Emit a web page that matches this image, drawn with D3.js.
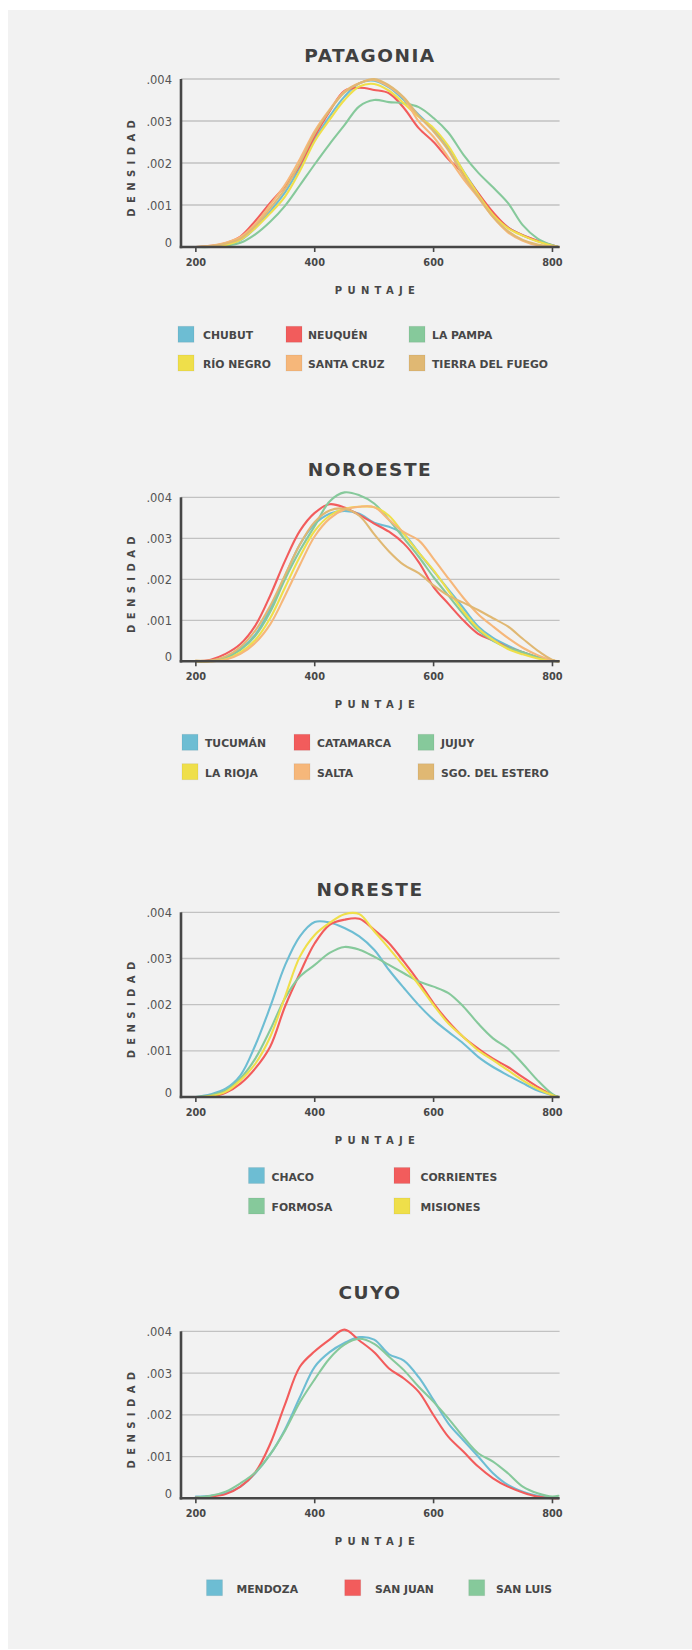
<!DOCTYPE html>
<html><head><meta charset="utf-8">
<script src="https://cdn.jsdelivr.net/npm/d3@7"></script>
<style>
html,body{margin:0;padding:0;background:#fff;}
svg{display:block;}
text{font-family:"DejaVu Sans",sans-serif;}
</style></head>
<body>
<script>
// ---------- DATA ----------
const scores = [200,225,250,275,300,325,350,375,400,425,450,475,500,525,550,575,600,625,650,675,700,725,750,775,800,810];
const xTickValues = [200,400,600,800];
const yTickValues = [0,1,2,3,4];            // density in thousandths
const yTickLabels = ["0",".001",".002",".003",".004"];

const regionTitles = ["PATAGONIA","NOROESTE","NORESTE","CUYO"];

// Patagonia
const patagoniaNames = ["CHUBUT","NEUQUÉN","LA PAMPA","RÍO NEGRO","SANTA CRUZ","TIERRA DEL FUEGO"];
const chubut    = [0,0.02,0.06,0.16,0.45,0.85,1.3,1.89,2.56,3.11,3.58,3.9,3.96,3.8,3.5,3.15,2.8,2.36,1.81,1.28,0.79,0.47,0.28,0.14,0.03,0];
const neuquen   = [0,0.03,0.09,0.25,0.62,1.05,1.45,1.95,2.64,3.23,3.72,3.79,3.74,3.66,3.31,2.83,2.5,2.09,1.75,1.28,0.83,0.47,0.28,0.15,0.04,0];
const laPampa   = [0,0,0.03,0.1,0.3,0.6,0.98,1.47,1.97,2.45,2.9,3.35,3.5,3.45,3.42,3.33,3.07,2.72,2.2,1.77,1.42,1.05,0.52,0.2,0.04,0];
const rioNegro  = [0,0.01,0.05,0.17,0.45,0.8,1.2,1.81,2.52,3.03,3.5,3.82,3.88,3.72,3.42,3.1,2.83,2.4,1.8,1.25,0.77,0.45,0.27,0.13,0.03,0];
const santaCruz = [0,0.03,0.1,0.24,0.55,1.0,1.48,2.09,2.76,3.27,3.7,3.9,3.98,3.82,3.54,2.99,2.62,2.13,1.62,1.18,0.71,0.35,0.15,0.04,0.01,0];
const tierraDelFuego = [0,0.02,0.08,0.2,0.5,0.92,1.38,2.0,2.7,3.25,3.68,3.9,4.0,3.85,3.56,3.12,2.75,2.3,1.7,1.2,0.72,0.38,0.17,0.06,0.01,0];

// Noroeste
const noroesteNames = ["TUCUMÁN","CATAMARCA","JUJUY","LA RIOJA","SALTA","SGO. DEL ESTERO"];
const tucuman   = [0,0.01,0.1,0.3,0.65,1.28,2.08,2.85,3.35,3.6,3.67,3.6,3.38,3.28,3.1,2.65,2.2,1.75,1.3,0.85,0.57,0.38,0.22,0.1,0.02,0];
const catamarca = [0,0.04,0.18,0.42,0.87,1.6,2.45,3.18,3.62,3.83,3.75,3.57,3.36,3.16,2.87,2.42,1.81,1.4,1.0,0.67,0.51,0.34,0.22,0.1,0.02,0];
const jujuy     = [0,0.01,0.08,0.28,0.62,1.2,2.0,2.7,3.3,3.9,4.12,4.05,3.85,3.45,3.0,2.55,2.05,1.6,1.15,0.75,0.5,0.33,0.22,0.1,0.02,0];
const laRioja   = [0,0,0.05,0.22,0.52,1.05,1.8,2.55,3.18,3.55,3.72,3.77,3.76,3.55,3.1,2.65,2.22,1.72,1.22,0.8,0.52,0.3,0.17,0.07,0.01,0];
const salta     = [0,0,0.04,0.18,0.45,0.9,1.6,2.35,3.05,3.48,3.7,3.77,3.76,3.45,3.15,2.95,2.5,2.02,1.55,1.15,0.85,0.57,0.33,0.15,0.02,0];
const sgoDelEstero = [0.02,0.02,0.12,0.35,0.75,1.35,2.1,2.85,3.4,3.68,3.72,3.55,3.1,2.68,2.35,2.15,1.85,1.6,1.43,1.25,1.05,0.85,0.55,0.26,0.03,0];

// Noreste
const noresteNames = ["CHACO","CORRIENTES","FORMOSA","MISIONES"];
const chaco      = [0,0.06,0.18,0.47,1.12,1.95,2.85,3.48,3.79,3.78,3.66,3.48,3.19,2.75,2.36,1.99,1.67,1.41,1.16,0.87,0.65,0.47,0.3,0.14,0.04,0];
const corrientes = [0,0.01,0.09,0.29,0.62,1.09,1.96,2.68,3.33,3.73,3.84,3.86,3.62,3.33,2.93,2.5,2.03,1.63,1.3,1.05,0.83,0.65,0.43,0.22,0.04,0];
const formosa    = [0,0.04,0.14,0.4,0.83,1.45,2.14,2.61,2.86,3.12,3.25,3.19,3.04,2.86,2.68,2.5,2.39,2.25,1.96,1.59,1.27,1.05,0.72,0.36,0.06,0];
const misiones   = [0,0.02,0.11,0.36,0.72,1.3,2.17,3.04,3.51,3.77,3.96,3.96,3.59,3.22,2.83,2.43,1.99,1.59,1.3,1.01,0.8,0.58,0.36,0.18,0.04,0];

// Cuyo
const cuyoNames = ["MENDOZA","SAN JUAN","SAN LUIS"];
const mendoza = [0.04,0.06,0.12,0.28,0.6,1.05,1.65,2.42,3.15,3.5,3.72,3.86,3.8,3.45,3.3,2.9,2.35,1.79,1.39,1.0,0.6,0.32,0.16,0.06,0.02,0];
const sanJuan = [0.02,0.04,0.1,0.28,0.62,1.3,2.25,3.15,3.52,3.8,4.04,3.78,3.5,3.11,2.87,2.55,1.99,1.47,1.12,0.76,0.48,0.28,0.14,0.04,0,0];
const sanLuis = [0.02,0.06,0.16,0.36,0.62,1.05,1.62,2.3,2.85,3.35,3.68,3.82,3.7,3.39,3.07,2.67,2.31,1.91,1.47,1.08,0.88,0.6,0.28,0.12,0.04,0.06];

// colours
const cBlue="#6dbdd3", cRed="#f25c5c", cGreen="#86c99b", cYellow="#efdf4a", cOrange="#f6b77a", cTan="#e0b873";

// ---------- LAYOUT ----------
const regions = [
  {title:regionTitles[0], names:patagoniaNames, series:[chubut,neuquen,laPampa,rioNegro,santaCruz,tierraDelFuego],
   colors:[cBlue,cRed,cGreen,cYellow,cOrange,cTan],
   y0:247, y4:79, titleY:61.7,
   swX:[178,286,409], txX:[203,308,432], rows:[339.3,368]},
  {title:regionTitles[1], names:noroesteNames, series:[tucuman,catamarca,jujuy,laRioja,salta,sgoDelEstero],
   colors:[cBlue,cRed,cGreen,cYellow,cOrange,cTan],
   y0:661.3, y4:497.3, titleY:476,
   swX:[182,294,418], txX:[205,317,441], rows:[747.3,776.7]},
  {title:regionTitles[2], names:noresteNames, series:[chaco,corrientes,formosa,misiones],
   colors:[cBlue,cRed,cGreen,cYellow],
   y0:1097, y4:912.3, titleY:896,
   swX:[248.5,394], txX:[271.5,420.5], rows:[1180.5,1211]},
  {title:regionTitles[3], names:cuyoNames, series:[mendoza,sanJuan,sanLuis],
   colors:[cBlue,cRed,cGreen],
   y0:1498.3, y4:1331.3, titleY:1299,
   swX:[206.5,344.7,468.7], txX:[236.5,375,496], rows:[1592.7]}
];

const W=692, H=1650;
const svg = d3.select("body").append("svg").attr("width",W).attr("height",H);
svg.append("rect").attr("width",W).attr("height",H).attr("fill","#fff");
svg.append("rect").attr("x",8).attr("y",10).attr("width",W-8).attr("height",1639).attr("fill","#f2f2f2");

const x = d3.scaleLinear().domain([175,812]).range([181,559.6]);
const axisColor="#464646", textColor="#474747";

regions.forEach(r=>{
  const y = d3.scaleLinear().domain([0,4]).range([r.y0,r.y4]);
  const g = svg.append("g");
  const xl = x.range()[0], xr = x.range()[1];

  // title
  g.append("text").attr("x",370).attr("y",r.titleY).attr("text-anchor","middle")
    .attr("font-size",18.5).attr("font-weight","bold").attr("letter-spacing",1.5)
    .attr("fill","#404040").text(r.title);

  // grid lines
  g.selectAll("line.grid").data(yTickValues.filter(d=>d>0)).enter().append("line")
    .attr("x1",xl).attr("x2",xr).attr("y1",d=>y(d)).attr("y2",d=>y(d))
    .attr("stroke","#c2c2c2").attr("stroke-width",1.3);

  // y tick labels
  g.selectAll("text.yt").data(yTickValues).enter().append("text")
    .attr("x",172).attr("y",d=>y(d)+(d===0?-0.5:4.5)).attr("text-anchor","end")
    .attr("font-size",11.5).attr("fill","#555").text((d,i)=>yTickLabels[i]);

  // lines
  const line = d3.line().x((d,i)=>x(scores[i])).y(d=>y(Math.max(0,d))).curve(d3.curveCatmullRom.alpha(0.5));
  r.series.forEach((s,i)=>{
    g.append("path").attr("d",line(s)).attr("fill","none")
      .attr("stroke",r.colors[i]).attr("stroke-width",2.1).attr("stroke-linejoin","round").attr("stroke-linecap","round");
  });

  // axes
  g.append("line").attr("x1",xl).attr("x2",xl).attr("y1",r.y4).attr("y2",r.y0+1.2)
    .attr("stroke",axisColor).attr("stroke-width",2.6);
  g.append("line").attr("x1",xl-1.3).attr("x2",xr).attr("y1",r.y0).attr("y2",r.y0)
    .attr("stroke",axisColor).attr("stroke-width",2.6);
  g.selectAll("line.xt").data(xTickValues).enter().append("line")
    .attr("x1",d=>x(d)).attr("x2",d=>x(d)).attr("y1",r.y0).attr("y2",r.y0+5)
    .attr("stroke",axisColor).attr("stroke-width",1.6);
  g.selectAll("text.xt").data(xTickValues).enter().append("text")
    .attr("x",d=>x(d)).attr("y",r.y0+19).attr("text-anchor","middle")
    .attr("font-size",9.8).attr("font-weight","bold").attr("fill",textColor).text(d=>d);

  // axis titles
  const midY=(r.y0+r.y4)/2;
  g.append("text").attr("transform",`translate(134.5,${midY+2.7}) rotate(-90)`)
    .attr("text-anchor","middle").attr("font-size",10).attr("font-weight","bold")
    .attr("letter-spacing",5.4).attr("fill",textColor).text("DENSIDAD");
  g.append("text").attr("x",377.5).attr("y",r.y0+46.5).attr("text-anchor","middle")
    .attr("font-size",10).attr("font-weight","bold").attr("letter-spacing",5.3)
    .attr("fill",textColor).text("PUNTAJE");

  // legend
  const nCols = r.swX.length;
  r.names.forEach((n,i)=>{
    const row = Math.floor(i/nCols), col = i%nCols;
    const by = r.rows[row];
    g.append("rect").attr("x",r.swX[col]).attr("y",by-13).attr("width",16).attr("height",16)
      .attr("fill",r.colors[i]).attr("stroke","rgba(0,0,0,0.06)").attr("stroke-width",1);
    g.append("text").attr("x",r.txX[col]).attr("y",by).attr("font-size",10.8)
      .attr("font-weight","bold").attr("fill",textColor).text(n);
  });
});
</script>
</body></html>
